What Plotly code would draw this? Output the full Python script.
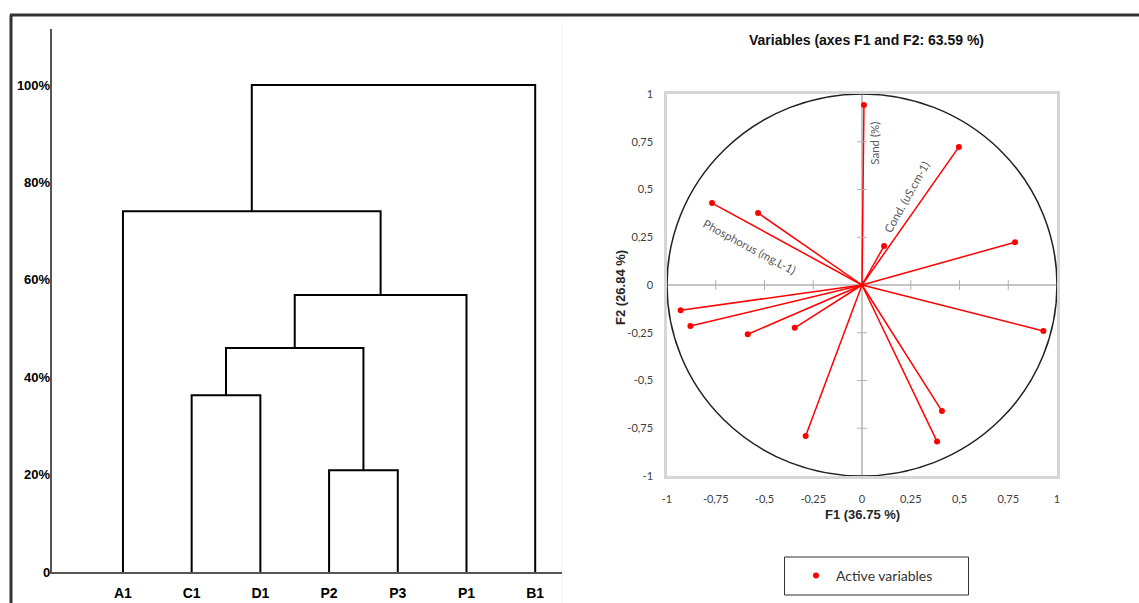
import plotly.graph_objects as go

# ---------------- Dendrogram data ----------------
leaves = ["A1", "C1", "D1", "P2", "P3", "P1", "B1"]
# merges: (left cluster members, right cluster members, height %)
merge_left = [["P2"], ["C1"], ["C1", "D1"], ["C1", "D1", "P2", "P3"], ["A1"], ["A1", "C1", "D1", "P2", "P3", "P1"]]
merge_right = [["P3"], ["D1"], ["P2", "P3"], ["P1"], ["C1", "D1", "P2", "P3", "P1"], ["B1"]]
merge_height = [20.9, 36.3, 46.0, 56.9, 74.1, 100.0]
y_tick_vals = [0, 20, 40, 60, 80, 100]
y_tick_text = ["0", "20%", "40%", "60%", "80%", "100%"]

# ---------------- PCA correlation circle data ----------------
f1_load = [0.01, 0.497, 0.113, 0.785, 0.93, 0.41, 0.385, -0.289, -0.586, -0.345, -0.88, -0.93, -0.769, -0.533]
f2_load = [0.942, 0.723, 0.204, 0.224, -0.241, -0.66, -0.82, -0.79, -0.258, -0.224, -0.215, -0.132, 0.429, 0.377]
var_labels = ["Sand (%)", "Cond. (uS.cm-1)", "Phosphorus (mg.L-1)"]
label_x = [0.067, 0.231, -0.579]
label_y = [0.74, 0.461, 0.199]
label_angle = [-90, -60.6, 28]
pca_ticks = [-1, -0.75, -0.5, -0.25, 0, 0.25, 0.5, 0.75, 1]
pca_tick_text = ["-1", "-0,75", "-0,5", "-0,25", "0", "0,25", "0,5", "0,75", "1"]

W, H = 1139, 603


def px(x):
    return x / W


def py(y):
    return 1 - y / H


fig = go.Figure()

# ---- dendrogram segments from merge data ----
pos = {lab: i + 1 for i, lab in enumerate(leaves)}
node_x, node_h = {}, {}
for lab in leaves:
    node_x[(lab,)] = pos[lab]
    node_h[(lab,)] = 0.0
seg_x, seg_y = [], []
for L, R, h in zip(merge_left, merge_right, merge_height):
    kl, kr = tuple(L), tuple(R)
    xl, xr = node_x[kl], node_x[kr]
    hl, hr = node_h[kl], node_h[kr]
    seg_x += [xl, xl, xr, xr, None]
    seg_y += [hl, h, h, hr, None]
    k = tuple(L + R)
    node_x[k] = (xl + xr) / 2
    node_h[k] = h

fig.add_trace(go.Scatter(x=seg_x, y=seg_y, mode="lines",
                         line=dict(color="black", width=2),
                         xaxis="x", yaxis="y", showlegend=False, hoverinfo="skip"))

# ---- PCA vectors ----
vx, vy = [], []
for a, b in zip(f1_load, f2_load):
    vx += [0, a, None]
    vy += [0, b, None]
fig.add_trace(go.Scatter(x=vx, y=vy, mode="lines", line=dict(color="#ff0000", width=1.5),
                         xaxis="x2", yaxis="y2", showlegend=False, hoverinfo="skip"))
# small tick marks along zero lines
tk = [t for t in pca_ticks if t not in (0, -1, 1)]
fig.add_trace(go.Scatter(x=[0] * len(tk), y=tk, mode="markers",
                         marker=dict(symbol="line-ew", size=7, line=dict(color="#b0b0b0", width=1)),
                         xaxis="x2", yaxis="y2", showlegend=False, hoverinfo="skip"))
fig.add_trace(go.Scatter(x=tk, y=[0] * len(tk), mode="markers",
                         marker=dict(symbol="line-ns", size=7, line=dict(color="#b0b0b0", width=1)),
                         xaxis="x2", yaxis="y2", showlegend=False, hoverinfo="skip"))
fig.add_trace(go.Scatter(x=f1_load, y=f2_load, mode="markers",
                         marker=dict(color="#ff0000", size=6),
                         name="Active variables", xaxis="x2", yaxis="y2", showlegend=True))

for t, x, y, a in zip(var_labels, label_x, label_y, label_angle):
    fig.add_annotation(x=x, y=y, xref="x2", yref="y2", text=t, textangle=a, showarrow=False,
                       xanchor="center", yanchor="middle",
                       font=dict(family="Lato", size=11.5, color="#595959"))

# circle
fig.add_shape(type="circle", xref="x2", yref="y2", x0=-1, y0=-1, x1=1, y1=1,
              line=dict(color="#222222", width=1.5), layer="above")

# faint panel separator
fig.add_shape(type="line", xref="paper", yref="paper", x0=px(562), x1=px(562), y0=0, y1=py(20),
              line=dict(color="#f3f3f3", width=1), layer="below")
# frame lines
fig.add_shape(type="line", xref="paper", yref="paper", x0=px(10), x1=1, y0=py(15), y1=py(15),
              line=dict(color="#333333", width=3))
fig.add_shape(type="line", xref="paper", yref="paper", x0=px(11), x1=px(11), y0=0, y1=py(15),
              line=dict(color="#333333", width=3))
# legend box
fig.add_shape(type="rect", xref="paper", yref="paper", x0=px(784.5), x1=px(968.5), y0=py(595), y1=py(557),
              line=dict(color="#333333", width=1), fillcolor="rgba(0,0,0,0)")

# titles
fig.add_annotation(x=px(866), y=py(40), xref="paper", yref="paper", xanchor="center", yanchor="middle",
                   text="<b>Variables (axes F1 and F2: 63.59 %)</b>", showarrow=False,
                   font=dict(family="Liberation Sans", size=14, color="#111111"))
fig.add_annotation(x=px(862), y=py(514), xref="paper", yref="paper", xanchor="center", yanchor="middle",
                   text="<b>F1 (36.75 %)</b>", showarrow=False,
                   font=dict(family="Liberation Sans", size=13, color="#262626"))
fig.add_annotation(x=px(620), y=py(288), xref="paper", yref="paper", xanchor="center", yanchor="middle",
                   text="<b>F2 (26.84 %)</b>", showarrow=False, textangle=-90,
                   font=dict(family="Liberation Sans", size=13, color="#262626"))

fig.update_layout(
    width=W, height=H,
    margin=dict(l=0, r=0, t=0, b=0, autoexpand=False),
    paper_bgcolor="white", plot_bgcolor="white",
    xaxis=dict(domain=[px(51.5), px(562)], range=[-0.04, 7.39],
               tickvals=list(range(1, len(leaves) + 1)), ticktext=leaves,
               showgrid=False, zeroline=False, showline=True, linecolor="#555555", linewidth=2,
               ticks="", ticklabelstandoff=7, automargin=False,
               tickfont=dict(family="Liberation Sans", size=14, color="black", weight="bold"),
               fixedrange=True),
    yaxis=dict(domain=[py(572), py(29)], range=[0, 111.5],
               tickvals=y_tick_vals, ticktext=y_tick_text,
               showgrid=False, zeroline=False, showline=True, linecolor="#555555", linewidth=1.5,
               ticks="", ticklabelstandoff=-3, automargin=False,
               tickfont=dict(family="Liberation Sans", size=13, color="black", weight="bold"),
               fixedrange=True),
    xaxis2=dict(domain=[px(667), px(1057)], range=[-1, 1], anchor="y2",
                tickvals=pca_ticks, ticktext=pca_tick_text,
                showgrid=False, zeroline=True, zerolinecolor="#c4c4c4", zerolinewidth=2,
                showline=True, mirror=True, linecolor="#d6d6d6", linewidth=2.5,
                ticks="", ticklabelstandoff=11, automargin=False,
                tickfont=dict(family="Lato", size=11, color="#404040")),
    yaxis2=dict(domain=[py(476), py(94)], range=[-1, 1], anchor="x2",
                tickvals=pca_ticks, ticktext=pca_tick_text,
                showgrid=False, zeroline=True, zerolinecolor="#c4c4c4", zerolinewidth=2,
                showline=True, mirror=True, linecolor="#d6d6d6", linewidth=2.5,
                ticks="", ticklabelstandoff=9, automargin=False,
                tickfont=dict(family="Lato", size=11, color="#404040")),
    legend=dict(x=px(796), y=py(576), xanchor="left", yanchor="middle",
                borderwidth=0, bgcolor="rgba(0,0,0,0)",
                font=dict(family="Lato", size=14, color="#333333")),
    showlegend=True,
)

fig.write_html("out.html", config={"displayModeBar": False},
               post_script="document.body.style.margin='0px';")
